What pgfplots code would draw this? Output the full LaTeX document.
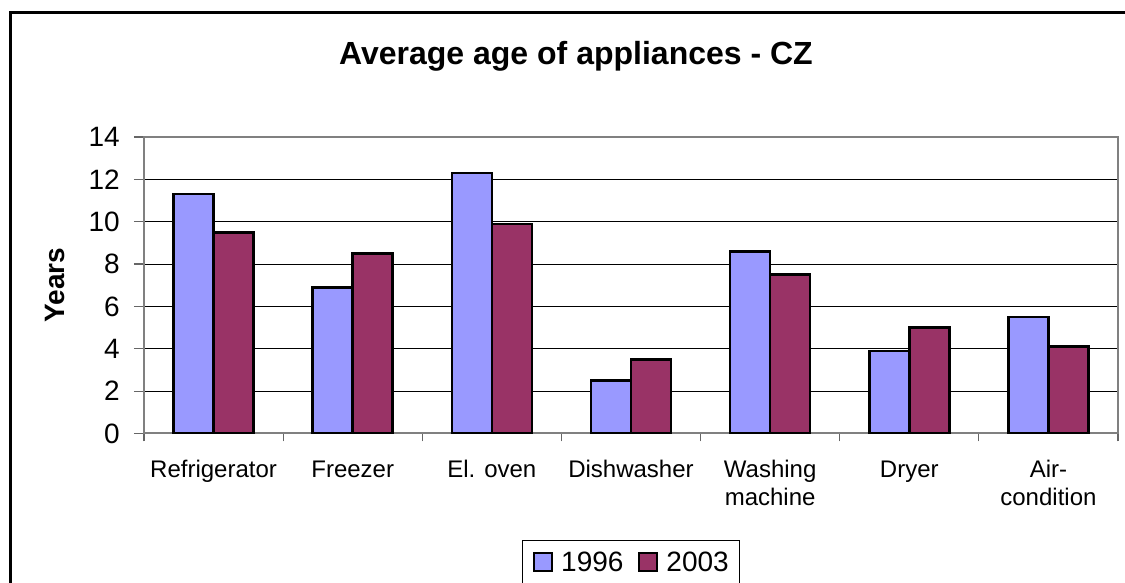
\documentclass[border=0pt]{standalone}
\usepackage{pgfplots}
\pgfplotsset{compat=1.18}
\usepackage{fontspec}
\setmainfont{Liberation Sans}
\definecolor{c96}{HTML}{9999FF}
\definecolor{c03}{HTML}{993366}
\begin{document}
\begin{tikzpicture}[x=1pt,y=1pt]
\useasboundingbox (0,0) rectangle (1125,583);
\clip (0,0) rectangle (1125,583);
\draw[line width=3pt] (10.5,-20) -- (10.5,570) -- (1200,570);
\node[font=\bfseries\fontsize{32}{38}\selectfont, anchor=base] at (576,518) {Average age of appliances - CZ};
\begin{axis}[
  at={(144pt,149.5pt)}, anchor=south west,
  scale only axis, width=974pt, height=296.5pt,
  xmin=-0.5, xmax=6.5, ymin=0, ymax=14,
  ytick={0,2,...,14},
  xtick={0,...,6},
  xticklabels={\strut Refrigerator, \strut Freezer, \strut El. oven, \strut Dishwasher, {\strut Washing\\machine}, \strut Dryer, {\strut Air-\\condition}},
  minor xtick={-0.5,0.5,...,6.5},
  major x tick style={draw=none},
  tick pos=left,
  tick align=outside,
  major tick length=10pt,
  minor tick length=8pt,
  tick style={gray!80!black, line width=1.2pt},
  axis line style={gray, line width=2pt},
  ymajorgrids, grid style={black, line width=1pt},
  /pgf/number format/assume math mode=true,
  yticklabel style={font=\fontsize{28}{32}\selectfont, anchor=east, inner sep=0pt, xshift=-14pt},
  xticklabel style={font=\fontsize{24}{28}\selectfont, align=center, anchor=north, inner sep=0pt, yshift=-14pt},
  ylabel={Years},
  ylabel style={font=\bfseries\fontsize{28}{32}\selectfont, at={(axis description cs:-0.0914,0.5)}, anchor=center},
  ybar=0pt, bar width=40pt,
  legend columns=2,
  legend style={at={(0.5,0)}, anchor=north, yshift=-106.5pt, draw=black, line width=1pt,
    font=\fontsize{28}{32}\selectfont, inner xsep=11pt, inner ysep=11pt,
    nodes={inner sep=0pt},
    /tikz/every odd column/.append style={column sep=8pt},
    /tikz/every even column/.append style={column sep=15pt}},
  legend image code/.code={\draw[#1, line width=2pt] (0pt,-9pt) rectangle (18pt,9pt);},
]
\addplot[fill=c96, draw=black, line width=2.5pt] coordinates {(0,11.3) (1,6.9) (2,12.3) (3,2.5) (4,8.6) (5,3.9) (6,5.5)};
\addplot[fill=c03, draw=black, line width=2.5pt] coordinates {(0,9.5) (1,8.5) (2,9.9) (3,3.5) (4,7.5) (5,5.0) (6,4.1)};
\legend{1996,2003}
\end{axis}
\end{tikzpicture}
\end{document}
